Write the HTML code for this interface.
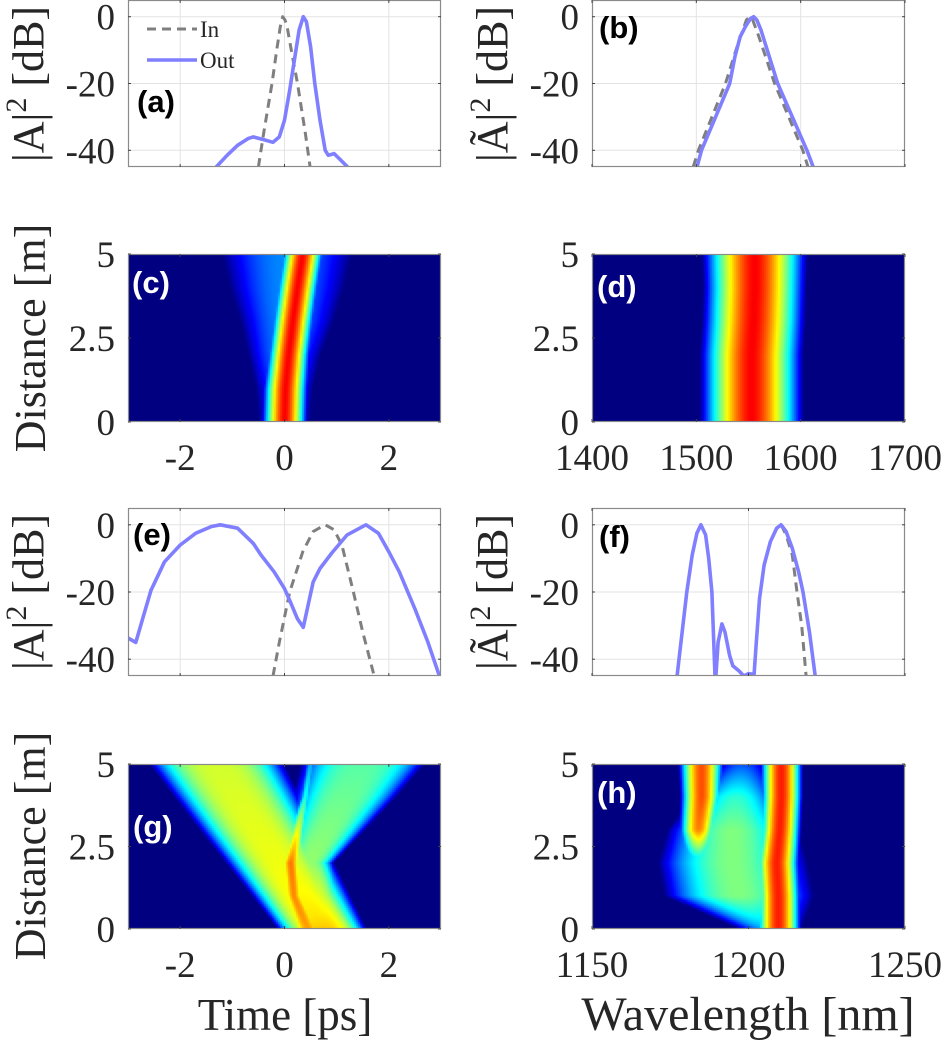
<!DOCTYPE html>
<html><head><meta charset="utf-8">
<style>
html,body{margin:0;padding:0;background:#fff;}
#wrap{position:relative;width:945px;height:1043px;overflow:hidden;}
canvas{position:absolute;}
svg{position:absolute;left:0;top:0;}
</style></head>
<body>
<div id="wrap">
<canvas id="hm-c"></canvas>
<canvas id="hm-d"></canvas>
<canvas id="hm-g"></canvas>
<canvas id="hm-h"></canvas>
<svg id="fig" width="945" height="1043" xmlns="http://www.w3.org/2000/svg"></svg>
</div>
<script>
// ---- data: line plots ----
const aInT   = [-0.50,-0.40,-0.30,-0.24,-0.15,-0.08,-0.035,0.01,0.05,0.13,0.25,0.40,0.49];
const aInDB  = [-45,-35,-25.5,-20,-10,-3,0,-1,-3,-10,-20,-35,-45];
const aOutT  = [-1.31,-1.1,-0.9,-0.7,-0.6,-0.4,-0.22,-0.1,0,0.1,0.2,0.28,0.36,0.42,0.5,0.58,0.68,0.78,0.84,0.95,1.05,1.21];
const aOutDB = [-45,-41.5,-38.5,-36.5,-36,-36.8,-37.6,-36,-31,-22,-12,-4,0,-1.5,-9,-20,-31,-40,-41.5,-41,-42.5,-45];
const bInL   = [1497,1502,1528,1540,1548,1551,1554,1560,1575,1602,1607];
const bInDB  = [-45,-40,-20,-8,-1,0,-1,-6,-20,-40,-45];
const bOutL  = [1500.6,1505,1532,1537,1542,1547,1552,1555,1558,1562,1578,1606,1612];
const bOutDB = [-45,-40,-20,-12,-6,-3,-0.5,0,-1,-4,-20,-40,-45];
const eInT   = [-0.22,-0.1,0.1,0.35,0.55,0.78,0.95,1.1,1.32,1.5,1.72];
const eInDB  = [-45,-35,-20,-8,-2,0,-1.5,-6,-20,-32,-45];
const eOutT  = [-3,-2.85,-2.7,-2.56,-2.3,-2,-1.7,-1.4,-1.23,-0.9,-0.6,-0.45,-0.2,0,0.1,0.25,0.36,0.48,0.55,0.68,0.9,1.2,1.56,1.8,2.0,2.2,2.5,2.75,2.97];
const eOutDB = [-33.7,-35,-27,-19.5,-11,-6,-2.5,-0.5,0,-1,-5.5,-9,-14,-19,-22.5,-28,-30.5,-22,-17,-13,-8.5,-3,0,-2.5,-8,-14,-25,-35,-45];
const fInL   = [1210.4,1212,1214,1215.5,1217,1218.4];
const fInDB  = [0,-3,-9,-20,-30,-45];
const fOut1L = [1177.2,1177.8,1180.3,1182,1183.5,1184.8,1186.3,1187.3,1188.3,1189.3];
const fOut1DB= [-45,-40,-20,-9,-2.5,0,-3,-10,-20,-45];
const fOut2L = [1189.6,1190.3,1191.5,1192.5,1194,1195,1197,1198.5,1200,1201.8,1202.5,1203.5,1205,1207,1209,1210.4,1212,1214,1216,1217.4,1219.5,1220.6,1221.3];
const fOut2DB= [-45,-35,-29.5,-32,-39,-42,-43.5,-45,-44.3,-44.5,-35,-22,-12,-5,-1,0,-2,-7,-14,-20,-32,-40,-45];
// ---- data: heatmaps (beam model per distance row) ----
const zRows = [0,1,2,3,4,5];
const cMainC = [0,0.02,0.08,0.16,0.25,0.35], cMainW=[0.45,0.45,0.43,0.43,0.43,0.43], cMainA=[0.88,0.88,0.88,0.88,0.88,0.88];
const cSkirtC= [0,0,0,0.05,0.05,0.05], cSkirtW=[0.5,0.55,0.7,0.9,1.1,1.25], cSkirtA=[0.2,0.22,0.25,0.26,0.26,0.26];
const dMainC = [1553,1553,1553,1555,1556,1556], dMainW=[50,50,50,50,50,51], dMainA=[0.88,0.88,0.88,0.88,0.88,0.88];
const gLeftC = [0.72,0.32,-0.08,-0.5,-0.9,-1.3], gLeftW=[0.86,0.95,1.05,1.13,1.22,1.3], gLeftA=[0.66,0.63,0.61,0.6,0.59,0.58];
const gRightC= [0.72,0.55,0.45,0.8,1.15,1.5], gRightW=[0.86,0.6,0.5,0.75,1.0,1.2], gRightA=[0.68,0.6,0.52,0.5,0.48,0.46];
const gStrkC = [0.45,0.18,0.12,0.25,0.4,0.5], gStrkW=[0.4,0.25,0.25,0.18,0.1,0.1], gStrkA=[0.72,0.74,0.76,0.6,0.4,0.3];
const hRightC= [1209.5,1209.5,1209,1210,1210.5,1210.5], hRightW=[7.5,7.5,7.5,7,7,7], hRightA=[0.85,0.85,0.85,0.85,0.85,0.85];
const hLeftC = [1185,1185,1184,1184,1185,1185], hLeftW=[6,6,6,6.5,7,7.5], hLeftA=[0,0,0.3,0.75,0.8,0.8];
const hBlobC = [1207,1197,1195,1195,1196,1198], hBlobW=[10,24,24,21,14,8], hBlobA=[0.3,0.5,0.5,0.5,0.42,0.2];
// ---- ticks ----
const timeTicks=[-2,0,2], wlTicksD=[1400,1500,1600,1700], wlTicksH=[1150,1200,1250];
const dbTicks=[-40,-20,0], distTicks=[0,2.5,5];
const distLabels=['0','2.5','5'];

const NS='http://www.w3.org/2000/svg';
const svg=document.getElementById('fig');
function el(tag,attrs,parent){const e=document.createElementNS(NS,tag);for(const k in attrs)e.setAttribute(k,attrs[k]);(parent||svg).appendChild(e);return e;}

const P={
 a:{x0:128,x1:441,y0:0,y1:167,xl:[-3,3],yl:[-45,5],xt:timeTicks,yt:dbTicks},
 b:{x0:592,x1:905,y0:0,y1:167,xl:[1400,1700],yl:[-45,5],xt:wlTicksD,yt:dbTicks},
 c:{x0:128,x1:441,y0:254,y1:422,xl:[-3,3],yl:[0,5],xt:timeTicks,yt:distTicks},
 d:{x0:592,x1:905,y0:254,y1:422,xl:[1400,1700],yl:[0,5],xt:wlTicksD,yt:distTicks},
 e:{x0:128,x1:441,y0:508,y1:676,xl:[-3,3],yl:[-45,5],xt:timeTicks,yt:dbTicks},
 f:{x0:592,x1:905,y0:508,y1:676,xl:[1150,1250],yl:[-45,5],xt:wlTicksH,yt:dbTicks},
 g:{x0:128,x1:441,y0:764,y1:929,xl:[-3,3],yl:[0,5],xt:timeTicks,yt:distTicks},
 h:{x0:592,x1:905,y0:764,y1:929,xl:[1150,1250],yl:[0,5],xt:wlTicksH,yt:distTicks}
};
function sx(p,v){return p.x0+(v-p.xl[0])/(p.xl[1]-p.xl[0])*(p.x1-p.x0);}
function sy(p,v){return p.y1-(v-p.yl[0])/(p.yl[1]-p.yl[0])*(p.y1-p.y0);}

const defs=el('defs',{});
for(const k in P){const p=P[k];const cp=el('clipPath',{id:'clip-'+k},defs);el('rect',{x:p.x0,y:p.y0,width:p.x1-p.x0,height:p.y1-p.y0},cp);}

const FS='"Liberation Serif", serif';
function text(str,x,y,size,anchor,fill,family,weight){
  const t=el('text',{x:x,y:y,'font-size':size,'text-anchor':anchor,fill:fill,'font-family':family||FS,'font-weight':weight||'normal'});
  t.textContent=str;return t;}

// line-plot panels
['a','b','e','f'].forEach(k=>{
  const p=P[k];
  el('rect',{x:p.x0,y:p.y0,width:p.x1-p.x0,height:p.y1-p.y0,fill:'#fff'});
  p.xt.forEach(v=>{const x=sx(p,v);if(x>p.x0+1&&x<p.x1-1){const g=el('line',{x1:x,x2:x,y1:p.y0,y2:p.y1,stroke:'#e3e3e3','stroke-width':1});
    
    }});
  p.yt.forEach(v=>{const y=sy(p,v);const g=el('line',{x1:p.x0,x2:p.x1,y1:y,y2:y,stroke:'#e3e3e3','stroke-width':1});
    
    });
});

function drawLine(k,xs,ys,color,dash,name){
  const p=P[k];const d=xs.map((x,i)=>(i?'L':'M')+sx(p,x).toFixed(1)+','+sy(p,ys[i]).toFixed(1)).join('');
  const attrs={d:d,fill:'none',stroke:color,'stroke-width':dash?3:3.6,'stroke-linejoin':'round','clip-path':'url(#clip-'+k+')'};
  if(dash)attrs['stroke-dasharray']='9,6';
  const e=el('path',attrs);
  
  
}
const BLUE='#7f7fff',GRAY='#7f7f7f';
drawLine('a',aInT,aInDB,GRAY,true,'a-input-line');
drawLine('a',aOutT,aOutDB,BLUE,false,'a-output-line');
drawLine('b',bInL,bInDB,GRAY,true,'b-input-line');
drawLine('b',bOutL,bOutDB,BLUE,false,'b-output-line');
drawLine('e',eInT,eInDB,GRAY,true,'e-input-line');
drawLine('e',eOutT,eOutDB,BLUE,false,'e-output-line');
drawLine('f',fInL,fInDB,GRAY,true,'f-input-line');
drawLine('f',fOut1L,fOut1DB,BLUE,false,'f-output-line-1');
drawLine('f',fOut2L,fOut2DB,BLUE,false,'f-output-line-2');

// heatmaps
function jet(v){v=Math.max(0,Math.min(1,v));
  const r=Math.max(0,Math.min(1,1.5-Math.abs(4*v-3))),g=Math.max(0,Math.min(1,1.5-Math.abs(4*v-2))),b=Math.max(0,Math.min(1,1.5-Math.abs(4*v-1)));
  return 'rgb('+Math.round(r*255)+','+Math.round(g*255)+','+Math.round(b*255)+')';}
function interp(arr,z){const i=Math.min(zRows.length-2,Math.floor(z/(zRows[1]-zRows[0])));const f=(z-zRows[i])/(zRows[i+1]-zRows[i]);return arr[i]+(arr[i+1]-arr[i])*f;}
function beamVal(x,z,C,Wd,A,pow){const c=interp(C,z),w=interp(Wd,z),a=interp(A,z);const d=Math.abs(x-c)/w;return Math.max(0,a*(1-Math.pow(d,pow)));}
const beams={
  c:[[cMainC,cMainW,cMainA,1.6],[cSkirtC,cSkirtW,cSkirtA,2]],
  d:[[dMainC,dMainW,dMainA,1.6]],
  g:[[gLeftC,gLeftW,gLeftA,3],[gRightC,gRightW,gRightA,3],[gStrkC,gStrkW,gStrkA,2]],
  h:[[hRightC,hRightW,hRightA,1.8],[hLeftC,hLeftW,hLeftA,1.8],[hBlobC,hBlobW,hBlobA,2]]
};
['c','d','g','h'].forEach(k=>{
  const p=P[k];const cv=document.getElementById('hm-'+k);
  const w=p.x1-p.x0,h=p.y1-p.y0;cv.width=w;cv.height=h;cv.style.left=p.x0+'px';cv.style.top=p.y0+'px';
  const ctx=cv.getContext('2d');const cs=2;
  for(let py=0;py<h;py+=cs){const z=p.yl[1]-(py+cs/2)/h*(p.yl[1]-p.yl[0]);
    for(let px=0;px<w;px+=cs){const x=p.xl[0]+(px+cs/2)/w*(p.xl[1]-p.xl[0]);
      let v=0;beams[k].forEach(b=>{v=Math.max(v,beamVal(x,z,b[0],b[1],b[2],b[3]));});
      ctx.fillStyle=jet(v);ctx.fillRect(px,py,cs,cs);}}
});

// axes boxes, ticks, labels
for(const k in P){const p=P[k];
  const box=el('rect',{x:p.x0+0.5,y:p.y0+0.5,width:p.x1-p.x0-1,height:p.y1-p.y0-1,fill:'none',stroke:'#8a8a8a','stroke-width':1.2});
  
  
  p.xt.forEach(v=>{const x=sx(p,v);el('line',{x1:x,x2:x,y1:p.y1,y2:p.y1-3,stroke:'#444'});el('line',{x1:x,x2:x,y1:p.y0,y2:p.y0+3,stroke:'#444'});});
  p.yt.forEach((v,i)=>{const y=sy(p,v);el('line',{x1:p.x0,x2:p.x0+3,y1:y,y2:y,stroke:'#444'});el('line',{x1:p.x1,x2:p.x1-3,y1:y,y2:y,stroke:'#444'});
    const lab=(p.yl[0]===0)?distLabels[i]:String(v);
    const t=text(lab,p.x0-13,y+13,37,'end','#262626');
    
    });
  if(k==='c'||k==='d'||k==='g'||k==='h'){
    p.xt.forEach(v=>{const t=text(String(v),sx(p,v),p.y1+48,37,'middle','#262626');
      
      });
  }
}
// panel labels
const PL=[['(a)',137,112,'#000','a'],['(b)',599,38,'#000','b'],['(c)',132,293,'#fff','c'],['(d)',597,297,'#fff','d'],
          ['(e)',133,545,'#000','e'],['(f)',599,547,'#000','f'],['(g)',133,837,'#fff','g'],['(h)',597,803,'#fff','h']];
PL.forEach(q=>{const t=text(q[0],q[1],q[2],31,'start',q[3],'"Liberation Sans", sans-serif','bold');
  
  });

// legend
el('line',{x1:147,x2:197,y1:29,y2:29,stroke:GRAY,'stroke-width':3,'stroke-dasharray':'9,6'});
const lg1=text('In',200,37,23,'start','#262626');


el('line',{x1:147,x2:197,y1:60,y2:60,stroke:BLUE,'stroke-width':3.6});
const lg2=text('Out',200,68,23,'start','#262626');



// axis titles
function ylabel(parts,cx,cy,name){
  const t=el('text',{transform:'translate('+cx+','+cy+') rotate(-90)','font-size':44,'text-anchor':'middle','font-family':FS,fill:'#262626',y:15});
  
  
  const a=el('tspan',{},t);a.textContent=parts[0];
  const s=el('tspan',{dy:-17,'font-size':30},t);s.textContent='2';
  const b=el('tspan',{dy:17},t);b.textContent=' [dB]';
}
ylabel(['|A|'],28,84,'y-axis-title-a');
ylabel(['|Ã|'],492,84,'y-axis-title-b');
ylabel(['|A|'],28,592,'y-axis-title-e');
ylabel(['|Ã|'],492,592,'y-axis-title-f');
function simpleY(str,cx,cy,name){const t=el('text',{transform:'translate('+cx+','+cy+') rotate(-90)','font-size':44,'text-anchor':'middle','font-family':FS,fill:'#262626',y:15});t.textContent=str;
  
  }
simpleY('Distance [m]',30,338,'y-axis-title-c');
simpleY('Distance [m]',30,846,'y-axis-title-g');
const xt1=text('Time [ps]',285,1030,45,'middle','#262626');


const xt2=text('Wavelength [nm]',748,1030,48,'middle','#262626');


</script>
</body></html>
